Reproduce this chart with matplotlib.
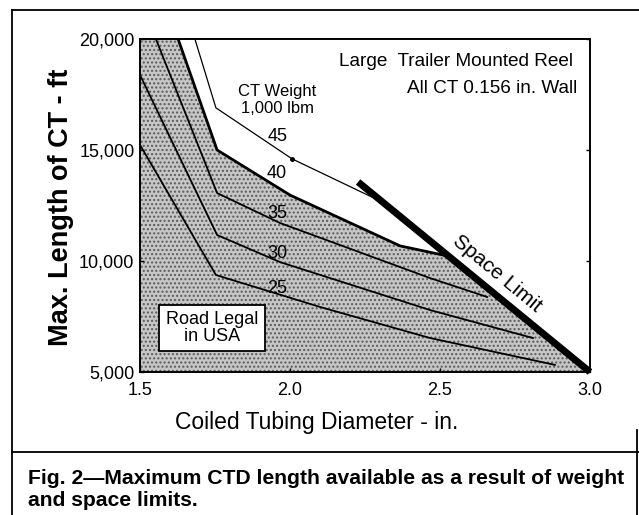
import matplotlib
matplotlib.use("Agg")
import matplotlib.pyplot as plt
from matplotlib.lines import Line2D

plt.rcParams["font.family"] = ["Liberation Sans", "DejaVu Sans"]

# ---- data ----
x45 = [1.683, 1.753, 2.007, 2.273]
y45 = [20000, 16900, 14600, 12880]
x40 = [1.627, 1.757, 2.000, 2.367, 2.510]
y40 = [20000, 15000, 12970, 10680, 10270]
x35 = [1.553, 1.757, 1.967, 2.467, 2.657]
y35 = [20000, 13060, 11710, 9230, 8380]
x30 = [1.500, 1.757, 1.967, 2.467, 2.810]
y30 = [18380, 11170, 9950, 7790, 6530]
x25 = [1.500, 1.753, 2.100, 2.467, 2.883]
y25 = [15230, 9370, 7930, 6530, 5320]
space_x = [2.227, 3.0]
space_y = [13560, 5000]

weight_labels = ["45", "40", "35", "30", "25"]
label_x = [1.96, 1.957, 1.957, 1.957, 1.957]
label_y = [15590, 13960, 12120, 10360, 8780]

xticks = [1.5, 2.0, 2.5, 3.0]
xtick_labels = ["1.5", "2.0", "2.5", "3.0"]
yticks = [5000, 10000, 15000, 20000]
ytick_labels = ["5,000", "10,000", "15,000", "20,000"]

W, H = 639, 515
fig = plt.figure(figsize=(W / 100, H / 100), dpi=100)
ax = fig.add_axes([140 / W, 1 - 372 / H, 450 / W, 333 / H])
ax.set_xlim(1.5, 3.0)
ax.set_ylim(5000, 20000)

# shaded feasible region: below the 40 curve and the space limit
poly_x = [1.5] + x40 + [space_x[1], 1.5]
poly_y = [20000] + y40 + [space_y[1], 5000]
ax.fill(poly_x, poly_y, facecolor="#c6c6c6", edgecolor="#5a5a5a",
        hatch="....", linewidth=0, zorder=1)

ax.plot(x45, y45, color="black", lw=0.9, zorder=3)
ax.plot([x45[2]], [y45[2]], "o", color="black", ms=2.5, zorder=3)
ax.plot(x40, y40, color="black", lw=2.0, zorder=3)
ax.plot(x35, y35, color="black", lw=1.3, zorder=3)
ax.plot(x30, y30, color="black", lw=1.3, zorder=3)
ax.plot(x25, y25, color="black", lw=1.3, zorder=3)
ax.plot(space_x, space_y, color="black", lw=5, solid_capstyle="butt",
        zorder=4, clip_on=False)

for t, lx, ly in zip(weight_labels, label_x, label_y):
    ax.text(lx, ly, t, ha="center", va="center", fontsize=13, zorder=5)

ax.text(1.957, 17250, "CT Weight\n1,000 lbm", ha="center", va="center",
        fontsize=12, linespacing=1.15, zorder=5)
ax.text(2.943, 19000, "Large  Trailer Mounted Reel", ha="right", va="center",
        fontsize=13.7, zorder=5)
ax.text(2.957, 17780, "All CT 0.156 in. Wall", ha="right", va="center",
        fontsize=13.7, zorder=5)
ax.text(2.69, 9420, "Space Limit", rotation=-39.7, ha="center", va="center",
        rotation_mode="anchor", fontsize=15, zorder=5)
ax.text(1.74, 6980, "Road Legal\nin USA", ha="center", va="center",
        fontsize=13, linespacing=1.0, zorder=5,
        bbox=dict(boxstyle="square,pad=0.35", facecolor="white",
                  edgecolor="black", linewidth=1.3))

ax.set_xticks(xticks)
ax.set_xticklabels(xtick_labels, fontsize=13)
ax.set_yticks(yticks)
ax.set_yticklabels(ytick_labels, fontsize=13)
ax.tick_params(axis="both", direction="in", length=3, width=1, pad=4)
ax.tick_params(axis="x", pad=7)
ax.tick_params(axis="y", right=True)
for s in ax.spines.values():
    s.set_linewidth(1.4)

fig.text(61 / W, 1 - 207 / H, "Max. Length of CT - ft", rotation=90,
         ha="center", va="center", fontsize=19.5, fontweight="bold")
fig.text(317 / W, 1 - 423 / H, "Coiled Tubing Diameter - in.", ha="center",
         va="center", fontsize=16.5)

# frame and caption
frame_kw = dict(color="black", lw=1.3, transform=fig.transFigure)
fig.add_artist(Line2D([12 / W, 1], [1 - 10 / H, 1 - 10 / H], **frame_kw))
fig.add_artist(Line2D([12 / W, 12 / W], [1 - 10 / H, 0], **frame_kw))
fig.add_artist(Line2D([12 / W, 1], [1 - 452 / H, 1 - 452 / H], **frame_kw))
fig.add_artist(Line2D([637 / W, 637 / W], [1 - 430 / H, 0], **frame_kw))
fig.text(28 / W, 1 - 490 / H,
         "Fig. 2\u2014Maximum CTD length available as a result of weight\nand space limits.",
         ha="left", va="center", fontsize=15.2, fontweight="bold",
         linespacing=1.2)

fig.savefig("out.png", dpi=100)
